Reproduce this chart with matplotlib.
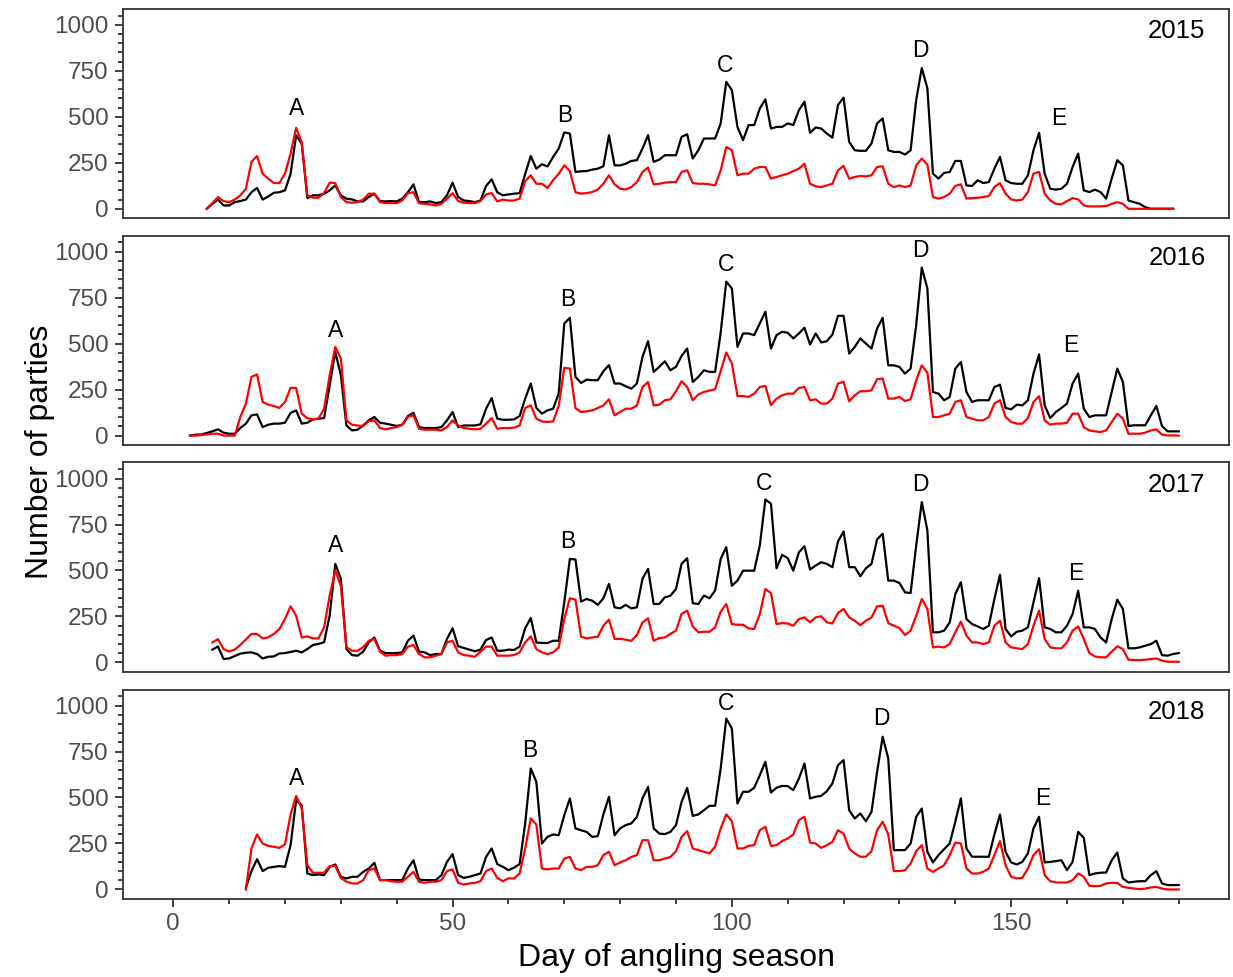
import matplotlib
matplotlib.use("Agg")
import matplotlib.pyplot as plt
import numpy as np
from matplotlib.ticker import MultipleLocator

plt.rcParams['font.family'] = ['Liberation Sans', 'DejaVu Sans']

# ---------------- data ----------------
years = ['2015', '2016', '2017', '2018']
start_days = [6, 3, 7, 13]

black_2015 = [0, 27, 50, 18, 18, 36, 42, 50, 90, 113,
              50, 67, 87, 90, 100, 190, 400, 355, 58, 73,
              73, 82, 100, 127, 73, 55, 51, 40, 40, 64,
              82, 42, 40, 42, 40, 55, 90, 133, 36, 36,
              40, 31, 36, 73, 142, 64, 45, 42, 36, 45,
              124, 160, 90, 73, 78, 82, 85, 190, 287, 218,
              242, 230, 282, 327, 415, 409, 200, 204, 205, 213,
              218, 231, 400, 236, 236, 245, 260, 264, 327, 400,
              255, 267, 291, 291, 291, 391, 405, 273, 318, 382,
              382, 382, 464, 690, 645, 445, 373, 455, 455, 545,
              595, 436, 445, 445, 464, 455, 536, 582, 413, 442,
              436, 409, 387, 564, 604, 364, 318, 315, 315, 355,
              464, 491, 318, 309, 309, 295, 318, 591, 765, 655,
              191, 164, 195, 200, 260, 260, 127, 124, 155, 140,
              145, 218, 282, 155, 140, 136, 136, 182, 318, 413,
              191, 109, 104, 109, 136, 227, 300, 100, 91, 104,
              91, 55, 164, 264, 236, 45, 36, 27, 9, 0,
              0, 0, 0, 0]
red_2015 = [0, 31, 64, 42, 36, 50, 73, 109, 255, 287,
            191, 164, 140, 140, 191, 300, 440, 360, 73, 60,
            60, 85, 142, 140, 64, 36, 33, 36, 50, 82,
            82, 36, 31, 31, 31, 45, 85, 90, 30, 27,
            24, 18, 27, 55, 85, 42, 33, 31, 31, 42,
            78, 85, 40, 50, 45, 45, 55, 150, 182, 136,
            136, 113, 155, 190, 236, 205, 90, 82, 85, 91,
            105, 136, 182, 133, 109, 105, 118, 145, 200, 224,
            133, 136, 142, 145, 145, 200, 209, 140, 136, 136,
            133, 127, 209, 336, 318, 182, 191, 191, 218, 227,
            227, 164, 173, 182, 191, 205, 218, 245, 136, 122,
            118, 127, 136, 209, 233, 164, 173, 178, 176, 182,
            227, 231, 136, 118, 127, 118, 127, 236, 273, 240,
            64, 55, 64, 82, 124, 133, 55, 58, 60, 64,
            69, 118, 140, 82, 51, 45, 50, 91, 191, 200,
            82, 45, 27, 24, 42, 58, 51, 18, 13, 13,
            13, 15, 27, 36, 27, 0, 0, 0, 0, 0,
            0, 0, 0, 0]

black_2016 = [0, 5, 6, 14, 23, 34, 16,
              10, 10, 41, 65, 110, 115, 46, 59, 65, 65,
              70, 123, 137, 65, 70, 88, 92, 95, 273, 455,
              328, 55, 28, 32, 55, 83, 101, 70, 65, 59,
              52, 59, 106, 124, 46, 41, 41, 41, 46, 83,
              128, 46, 55, 55, 55, 61, 146, 204, 92, 86,
              86, 88, 106, 201, 283, 150, 119, 137, 146, 228,
              609, 640, 319, 286, 304, 301, 301, 350, 383, 283,
              283, 268, 255, 283, 428, 513, 346, 374, 404, 355,
              374, 433, 473, 291, 319, 355, 346, 346, 560, 837,
              800, 482, 555, 555, 546, 609, 673, 473, 546, 564,
              559, 528, 555, 586, 495, 555, 506, 513, 549, 651,
              651, 446, 482, 528, 500, 473, 582, 640, 382, 382,
              373, 337, 364, 600, 913, 800, 237, 228, 192, 210,
              364, 400, 237, 183, 192, 192, 192, 264, 277, 150,
              143, 168, 164, 192, 337, 441, 164, 95, 128, 150,
              174, 283, 337, 146, 101, 110, 110, 110, 237, 364,
              292, 52, 56, 56, 56, 110, 161, 52, 23, 23,
              23]
red_2016 = [0, 0, 3, 6, 10, 10, 0,
            0, 0, 101, 173, 319, 332, 183, 168, 161, 150,
            183, 259, 259, 119, 95, 88, 92, 146, 328, 482,
            419, 83, 59, 55, 52, 79, 83, 41, 34, 41,
            46, 59, 101, 110, 37, 32, 32, 32, 28, 46,
            83, 55, 41, 37, 34, 37, 65, 95, 37, 41,
            41, 43, 55, 150, 164, 92, 77, 74, 77, 160,
            368, 364, 150, 128, 132, 137, 150, 164, 197, 110,
            128, 146, 146, 164, 264, 291, 164, 168, 192, 197,
            241, 295, 264, 192, 223, 237, 245, 252, 350, 452,
            392, 215, 215, 210, 228, 264, 270, 165, 201, 219,
            228, 228, 259, 264, 192, 197, 174, 174, 201, 283,
            292, 186, 219, 241, 241, 246, 306, 310, 201, 201,
            210, 188, 197, 300, 382, 342, 101, 101, 110, 119,
            183, 192, 101, 92, 83, 83, 101, 174, 192, 101,
            74, 65, 65, 95, 183, 214, 83, 59, 65, 65,
            70, 119, 119, 46, 28, 23, 19, 28, 74, 119,
            92, 10, 10, 10, 16, 28, 34, 5, 1, 1,
            0]

black_2017 = [70, 87, 19,
              22, 35, 48, 53, 55, 46, 22, 31, 33, 49,
              51, 57, 64, 55, 73, 95, 101, 110, 255, 536,
              455, 73, 40, 37, 59, 109, 136, 64, 51, 51,
              51, 55, 118, 146, 59, 55, 40, 46, 46, 128,
              186, 88, 79, 70, 61, 70, 122, 136, 64, 64,
              70, 68, 86, 186, 242, 109, 106, 106, 118, 118,
              327, 563, 560, 331, 345, 336, 313, 349, 427, 300,
              294, 313, 294, 300, 455, 509, 318, 318, 354, 363,
              400, 536, 567, 322, 318, 364, 349, 391, 563, 627,
              417, 445, 499, 499, 499, 636, 886, 863, 512, 585,
              567, 499, 599, 632, 505, 527, 545, 536, 518, 658,
              712, 518, 518, 469, 512, 536, 669, 700, 445, 445,
              432, 381, 378, 636, 872, 718, 164, 164, 173, 218,
              372, 436, 236, 209, 196, 182, 200, 345, 477, 182,
              142, 167, 173, 191, 327, 458, 191, 182, 164, 164,
              200, 263, 390, 191, 191, 182, 136, 109, 236, 341,
              291, 77, 77, 82, 91, 100, 118, 40, 37, 46,
              51]
red_2017 = [109, 127, 73,
            60, 70, 95, 125, 155, 155, 131, 137, 155, 182,
            236, 305, 254, 136, 142, 131, 131, 191, 363, 499,
            417, 83, 64, 64, 83, 118, 128, 59, 37, 40,
            40, 46, 86, 95, 46, 28, 28, 37, 46, 109,
            118, 55, 40, 37, 31, 59, 86, 86, 37, 37,
            37, 40, 55, 109, 142, 73, 55, 46, 55, 82,
            236, 349, 342, 140, 131, 136, 140, 200, 233, 128,
            128, 124, 118, 149, 218, 240, 118, 133, 136, 155,
            173, 264, 282, 196, 164, 167, 167, 191, 276, 318,
            209, 205, 205, 185, 182, 263, 399, 377, 209, 214,
            212, 200, 236, 245, 218, 245, 251, 218, 212, 269,
            291, 245, 227, 203, 227, 245, 305, 309, 214, 200,
            187, 149, 173, 254, 345, 291, 82, 86, 82, 100,
            164, 222, 146, 109, 109, 100, 109, 200, 227, 109,
            82, 77, 73, 100, 200, 282, 128, 82, 77, 77,
            109, 173, 196, 128, 51, 33, 28, 28, 59, 88,
            73, 15, 13, 13, 15, 19, 22, 10, 4, 4,
            4]

black_2018 = [10, 100, 165, 100, 118, 123, 127,
              123, 241, 486, 458, 87, 78, 82, 78, 123, 136,
              69, 60, 69, 69, 96, 114, 145, 51, 51, 51,
              51, 51, 114, 159, 54, 51, 51, 51, 78, 150,
              192, 78, 63, 69, 78, 87, 177, 223, 138, 123,
              105, 118, 138, 359, 658, 585, 250, 286, 299, 295,
              404, 495, 332, 322, 313, 286, 290, 408, 504, 295,
              332, 350, 359, 395, 495, 558, 332, 304, 301, 313,
              350, 476, 552, 400, 408, 431, 455, 455, 658, 929,
              875, 467, 531, 531, 553, 621, 694, 527, 553, 563,
              562, 540, 603, 685, 495, 504, 509, 534, 576, 676,
              703, 431, 386, 413, 371, 422, 639, 830, 712, 214,
              214, 214, 250, 395, 440, 205, 147, 187, 219, 250,
              368, 495, 223, 178, 178, 178, 178, 299, 408, 205,
              147, 136, 150, 196, 332, 395, 147, 150, 154, 159,
              105, 150, 313, 281, 78, 87, 91, 92, 159, 201,
              60, 38, 42, 45, 45, 78, 100, 33, 24, 24,
              24]
red_2018 = [0, 223, 299, 250, 237, 232, 226,
            245, 408, 509, 440, 132, 91, 91, 91, 127, 129,
            63, 42, 33, 33, 51, 105, 114, 51, 51, 45,
            42, 42, 69, 96, 42, 36, 42, 42, 51, 100,
            109, 36, 27, 33, 36, 45, 100, 114, 63, 45,
            60, 60, 87, 223, 386, 353, 114, 109, 114, 114,
            168, 177, 114, 105, 123, 123, 132, 187, 205, 132,
            147, 159, 177, 187, 268, 268, 159, 159, 168, 177,
            208, 286, 317, 223, 214, 205, 196, 232, 332, 408,
            371, 223, 223, 237, 241, 322, 341, 237, 241, 263,
            277, 299, 377, 395, 255, 250, 226, 241, 259, 322,
            304, 223, 196, 178, 178, 208, 322, 368, 299, 100,
            100, 105, 141, 208, 241, 114, 96, 114, 132, 187,
            255, 250, 114, 87, 87, 96, 114, 187, 263, 132,
            69, 60, 63, 114, 187, 219, 78, 45, 38, 38,
            38, 51, 87, 69, 20, 18, 20, 33, 36, 36,
            14, 9, 5, 2, 5, 11, 14, 5, 0, 0,
            0]

black_series = [black_2015, black_2016, black_2017, black_2018]
red_series = [red_2015, red_2016, red_2017, red_2018]

event_letters = ['A', 'B', 'C', 'D', 'E']
# label anchor (day, count) per year
event_days = [[22, 70, 98.7, 133.7, 158.5],
              [29.1, 70.7, 98.9, 133.7, 160.6],
              [29.1, 70.7, 105.8, 133.7, 161.6],
              [22.1, 63.9, 99.0, 126.7, 155.6]]
event_counts = [[546, 508, 780, 862, 491],
                [573, 741, 932, 1008, 491],
                [638, 659, 975, 965, 485],
                [603, 755, 1011, 929, 495]]

# ---------------- figure ----------------
W, H = 1233, 977
fig = plt.figure(figsize=(W / 100, H / 100), dpi=100)
left_px, right_px = 123, 1229
panel_h = 209
tops_px = [8.8, 235.6, 462.5, 689.5]
frame_col = '#333333'

axes = []
for i in range(4):
    bottom = 1 - (tops_px[i] + panel_h) / H
    ax = fig.add_axes([left_px / W, bottom, (right_px - left_px) / W, panel_h / H])
    axes.append(ax)
    blk = np.array(black_series[i], dtype=float)
    red = np.array(red_series[i], dtype=float)
    d_b = start_days[i] + np.arange(len(blk))
    d_r = start_days[i] + np.arange(len(red))
    ax.plot(d_b, blk, color='black', lw=1.6, solid_joinstyle='round', zorder=3)
    ax.plot(d_r, red, color='#FF0000', lw=1.6, solid_joinstyle='round', zorder=4)

    ax.set_xlim(-9, 189)
    ax.set_ylim(-49, 1087)
    ax.yaxis.set_major_locator(MultipleLocator(250))
    ax.yaxis.set_minor_locator(MultipleLocator(50))
    ax.xaxis.set_major_locator(MultipleLocator(50))
    ax.xaxis.set_minor_locator(MultipleLocator(10))
    ax.tick_params(which='major', direction='out', length=5.8, width=1.3,
                   color=frame_col, labelcolor='#4D4D4D', labelsize=17.5, pad=4.5)
    ax.tick_params(which='minor', direction='out', length=3.5, width=1.3,
                   color=frame_col)
    if i < 3:
        ax.tick_params(axis='x', which='both', bottom=False, labelbottom=False)
    for s in ax.spines.values():
        s.set_color(frame_col)
        s.set_linewidth(1.3)

    for let, dx, cy in zip(event_letters, event_days[i], event_counts[i]):
        ax.text(dx, cy, let, ha='center', va='center', fontsize=16.5, color='black')
    ax.text(184.8, 965, years[i], ha='right', va='center', fontsize=18.5, color='black')

fig.text(40 / W, 1 - 452 / H, 'Number of parties', rotation=90,
         ha='center', va='center', fontsize=23)
fig.text(676 / W, 1 - 958 / H, 'Day of angling season',
         ha='center', va='center', fontsize=23)

fig.savefig('out.png', dpi=100)
